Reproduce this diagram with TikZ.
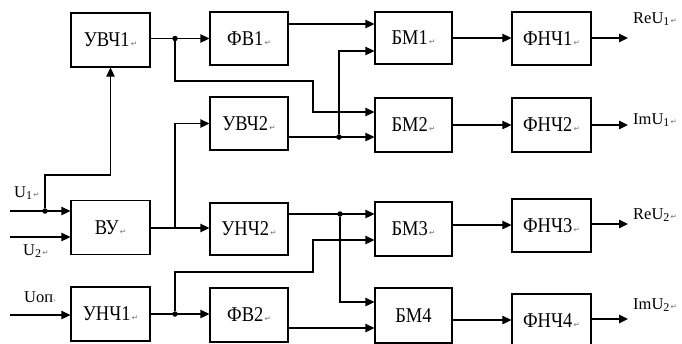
\documentclass[tikz,border=0pt]{standalone}
\usepackage{fontspec}
\setmainfont{Liberation Serif}
\newfontfamily\boxfont[FakeStretch=0.88]{Liberation Serif}
\newfontfamily\markfont{DejaVu Sans}
\usetikzlibrary{arrows.meta}
% paragraph-return mark printed after the labels
\newcommand{\rmk}{{\markfont\fontsize{7.5}{8}\selectfont\color{black!55}\,↵}}
\newcommand{\rdot}{{\markfont\fontsize{5}{6}\selectfont\color{black!55}•}}
% lowered index of a signal name
\newcommand{\idx}[1]{\raisebox{-2.5pt}{\fontsize{12}{13}\selectfont #1}}
\tikzset{
  blk/.style={draw, rectangle, line width=1.3pt, inner sep=0pt,
    minimum width=79pt, minimum height=54pt,
    font=\boxfont\fontsize{21}{23}\selectfont},
  wire/.style={line width=1.3pt},
  arr/.style={wire, -{Triangle[length=9pt,width=8.5pt]}},
  jdot/.style={circle, fill, inner sep=0pt, minimum size=5.5pt},
  lbl/.style={anchor=west, inner sep=0pt, font=\fontsize{16.5}{19}\selectfont}
}
\begin{document}
\begin{tikzpicture}[x=1pt, y=-1pt]
\useasboundingbox (0,0) rectangle (682,343);
\clip (0,0) rectangle (682,343);

% ---- blocks ----
\node[blk] (uvch1) at (110.5,40)  {УВЧ1\rmk};
\node[blk] (vu)    at (110.5,227.5) {ВУ\rmk};
\node[blk] (unch1) at (110.5,314) {УНЧ1\rmk};

\node[blk, minimum width=78pt, minimum height=53pt] (fv1)   at (249,38.5)  {ФВ1\rmk};
\node[blk, minimum width=78pt, minimum height=53pt] (uvch2) at (249,123.5) {УВЧ2\rmk};
\node[blk, minimum width=78pt, minimum height=52pt] (unch2) at (249,229)   {УНЧ2\rmk};
\node[blk, minimum width=78pt] (fv2) at (249,315) {ФВ2\rmk};

\node[blk, minimum width=77pt, minimum height=52pt] (bm1) at (413.5,38)  {БМ1\rmk};
\node[blk, minimum width=77pt] (bm2) at (413.5,125) {БМ2\rmk};
\node[blk, minimum width=77pt] (bm3) at (413.5,229) {БМ3\rmk};
\node[blk, minimum width=77pt, minimum height=55pt] (bm4) at (413.5,315.5) {БМ4};

\node[blk, minimum height=53pt] (fnch1) at (551.5,38.5)  {ФНЧ1\rmk};
\node[blk] (fnch2) at (551.5,125)   {ФНЧ2\rmk};
\node[blk, minimum height=53pt] (fnch3) at (551.5,225.5) {ФНЧ3\rmk};
\node[blk] (fnch4) at (551.5,321)   {ФНЧ4\rmk};

% ---- inputs ----
\coordinate (inU1)  at (10,211);
\coordinate (inU2)  at (10,237);
\coordinate (inUop) at (10,315);
\node[lbl] (lU1)  at (14,193) {U\idx{1}\rmk};
\node[lbl] (lU2)  at (23,251) {U\idx{2}\rmk};
\node[lbl] (lUop) at (24,297) {Uоп\rdot};

\draw[arr] (inU1) -- (inU1 -| vu.west);
\draw[arr] (inU2) -- (inU2 -| vu.west);
\draw[arr] (inUop) -- (inUop -| unch1.west);
\node[jdot] (j1) at (45,211) {};
\draw[arr] (j1) |- (uvch1.south |- 0,175) -- (uvch1.south);

% ---- upper branch ----
\draw[arr] (uvch1.east |- fv1.west) -- (fv1.west);
\node[jdot] (j2) at (175,38.5) {};
\draw[arr] (j2) |- (313,81) |- (bm2.west |- 0,112);
\draw[arr] (fv1.east |- 0,24) -- (bm1.west |- 0,24);
\draw[arr] (uvch2.east |- 0,137) -- (bm2.west |- 0,137);
\node[jdot] (j3) at (339,137) {};
\draw[arr] (j3) |- (bm1.west |- 0,51);

% ---- lower branch ----
\draw[arr] (vu.east |- 0,228) -- (unch2.west |- 0,228);
\draw[arr] (175,228) |- (uvch2.west);
\draw[arr] (unch2.east |- 0,214) -- (bm3.west |- 0,214);
\node[jdot] (j4) at (340,214) {};
\draw[arr] (j4) |- (bm4.west |- 0,302);
\draw[arr] (unch1.east) -- (unch1.east -| fv2.west);
\node[jdot] (j5) at (175,314) {};
\draw[arr] (j5) |- (313,272) |- (bm3.west |- 0,240);
\draw[arr] (fv2.east |- 0,328) -- (bm4.west |- 0,328);

% ---- multipliers to low-pass filters ----
\draw[arr] (bm1.east |- 0,38)  -- (fnch1.west |- 0,38);
\draw[arr] (bm2.east |- 0,125) -- (fnch2.west |- 0,125);
\draw[arr] (bm3.east |- 0,225) -- (fnch3.west |- 0,225);
\draw[arr] (bm4.east |- 0,320) -- (fnch4.west |- 0,320);

% ---- outputs ----
\coordinate (o1) at (628,38);
\coordinate (o2) at (628,125);
\coordinate (o3) at (628,224);
\coordinate (o4) at (628,319);
\draw[arr] (fnch1.east |- o1) -- (o1);
\draw[arr] (fnch2.east |- o2) -- (o2);
\draw[arr] (fnch3.east |- o3) -- (o3);
\draw[arr] (fnch4.east |- o4) -- (o4);
\node[lbl] (lo1) at (633,19)  {ReU\idx{1}\rmk};
\node[lbl] (lo2) at (633,120) {ImU\idx{1}\rmk};
\node[lbl] (lo3) at (633,215) {ReU\idx{2}\rmk};
\node[lbl] (lo4) at (633,305) {ImU\idx{2}\rmk};
\end{tikzpicture}
\end{document}
